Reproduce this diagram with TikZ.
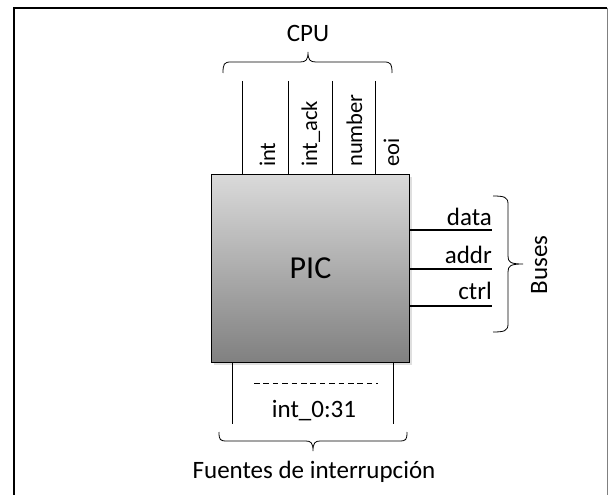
\documentclass[tikz,border=0pt]{standalone}
\usepackage{fontspec}
\setmainfont{Carlito}
\usetikzlibrary{shadows}
\definecolor{pictop}{RGB}{218,218,218}
\definecolor{picbot}{RGB}{128,128,128}
\begin{document}
\begin{tikzpicture}[x=1pt,y=-1pt,
  lbl/.style={inner sep=0pt,font=\fontsize{25}{30}\selectfont},
  vlbl/.style={inner sep=0pt,rotate=90,anchor=base west,font=\fontsize{22.5}{27}\selectfont},
  wire/.style={line width=0.8pt},
  bus/.style={line width=2.2pt},
  brc/.style={line width=0.8pt}]
\useasboundingbox (0,0) rectangle (608,495);
% frame
\draw[line width=1.6pt] (14,500) -- (14,8) -- (607,8);
\draw[gray,line width=0.8pt] (607,8) -- (607,500);
% PIC box
\node (pic) [draw,line width=1pt,minimum width=198pt,minimum height=188pt,anchor=north west,
  top color=pictop,bottom color=picbot,
  drop shadow={shadow xshift=2.5pt,shadow yshift=-2.5pt,opacity=0.25},
  font=\fontsize{32}{38}\selectfont,inner sep=0pt] at (211,174) {PIC};
% CPU wires
\foreach \x/\n in {242/a,288/b,332/c,375/d}{
  \coordinate (t\n) at (\x,81);
  \coordinate (b\n) at (\x,174);
  \draw[wire] (t\n) -- (b\n);
}
\node[vlbl] (lint) at (275,167) {int};
\node[vlbl] (lack) at (317,167) {int\_ack};
\node[vlbl] (lnum) at (362,167) {number};
\node[vlbl] (leoi) at (399,167) {eoi};
% CPU brace
\draw[brc] (223,73) .. controls (223,64) and (224,62) .. (231,62) -- (300,62)
  .. controls (306,62) and (308,60) .. (308,52)
  .. controls (308,60) and (310,62) .. (316,62) -- (384,62)
  .. controls (391,62) and (392,64) .. (392,73);
\node[lbl,anchor=base] (cpu) at (308,42) {CPU};
% buses
\foreach \y/\n in {230/a,269/b,306/c}{
  \coordinate (bl\n) at (409,\y);
  \coordinate (br\n) at (492,\y);
  \draw[bus] (bl\n) -- (br\n);
}
\node[lbl,anchor=base east] (ldata) at (492,225) {data};
\node[lbl,anchor=base east] (laddr) at (492,263) {addr};
\node[lbl,anchor=base east] (lctrl) at (492,299) {ctrl};
\draw[brc] (493,196) .. controls (504,196) and (508,197) .. (508,204) -- (508,256)
  .. controls (508,262) and (510,264) .. (523,264)
  .. controls (510,264) and (508,266) .. (508,272) -- (508,324)
  .. controls (508,331) and (504,332) .. (493,332);
\node[lbl,rotate=90,anchor=base] (buses) at (547,265) {Buses};
% bottom
\coordinate (l1) at (232,362); \coordinate (l2) at (232,424);
\coordinate (r1) at (393,362); \coordinate (r2) at (393,424);
\draw[wire] (l1) -- (l2);
\draw[wire] (r1) -- (r2);
\coordinate (d1) at (254,383); \coordinate (d2) at (378,383);
\draw[wire,dash pattern=on 5.5pt off 3.9pt] (d1) -- (d2);
\node[lbl,anchor=base] (int031) at (314,417) {int\_0:31};
\draw[brc] (219,432) .. controls (219,440) and (220,441) .. (227,441) -- (306,441)
  .. controls (311,441) and (313,443) .. (313,451)
  .. controls (313,443) and (315,441) .. (320,441) -- (399,441)
  .. controls (406,441) and (407,440) .. (407,432);
\node[lbl,anchor=base] (fuentes) at (314,478) {Fuentes de interrupción};
\end{tikzpicture}
\end{document}
